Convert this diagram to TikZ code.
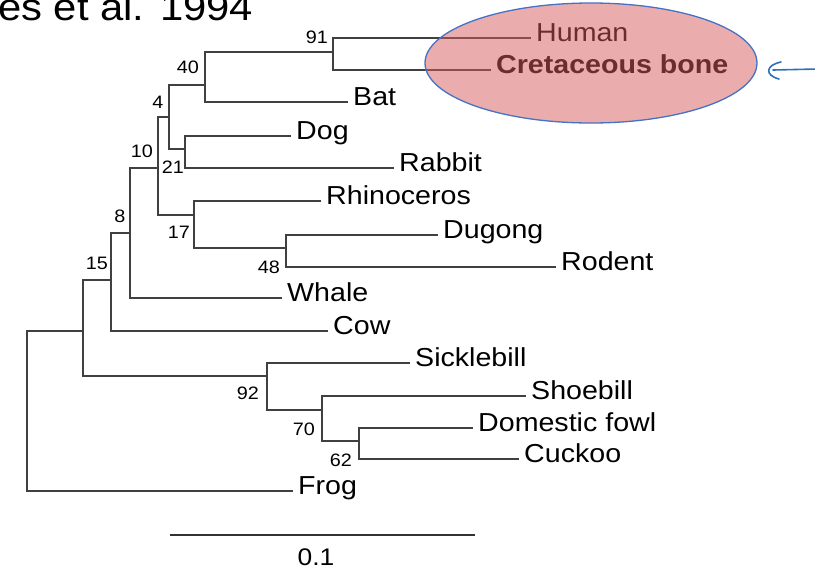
\documentclass[tikz,border=0pt]{standalone}
\usepackage{fontspec}
\setmainfont{Liberation Sans}[FakeStretch=1.1]

\begin{document}
\begin{tikzpicture}[x=1pt, y=-1pt,
    branch/.style={line width=1.1pt, black!75, line cap=rect},
    taxon/.style={anchor=west, inner xsep=6pt, inner ysep=0pt, text height=0.72em, text depth=0pt, font=\fontsize{26}{30}\selectfont},
    boot/.style={inner sep=0pt, font=\fontsize{18}{20}\selectfont},
    pen/.style={penblue, line width=1.6pt, line cap=round}]
    % Màu của vòng elip và mũi tên vẽ tay
    \definecolor{ovalfill}{RGB}{214, 90, 90}
    \definecolor{ovalline}{RGB}{68, 114, 196}
    \definecolor{penblue}{RGB}{46, 110, 186}

    % Khung hình
    \useasboundingbox (0,0) rectangle (815,574);
    \clip (0,0) rectangle (815,574);

    % Tiêu đề (bị cắt ở mép trên)
    \node[anchor=base west, inner sep=0pt, font=\fontsize{38}{40}\selectfont] (title) at (-2,20) {es et al. 1994};

    % Các nút trong của cây
    \coordinate (root) at (27,411);
    \coordinate (nA) at (83,331);
    \coordinate (n15) at (111,280);
    \coordinate (n8) at (130,233);
    \coordinate (n10) at (158,168);
    \coordinate (n4) at (169,117);
    \coordinate (n40) at (205,85);
    \coordinate (n91) at (333,52);
    \coordinate (n21) at (185,149);
    \coordinate (n17) at (194,215);
    \coordinate (n48) at (286,248);
    \coordinate (n92) at (267,376);
    \coordinate (n70) at (322,410);
    \coordinate (n62) at (359,441);

    % Tên các loài
    \node[taxon] (human) at (530,38) {Human};
    \node[taxon] (cret) at (490,70) {\textbf{Cretaceous bone}};
    \node[taxon] (bat) at (347,102) {Bat};
    \node[taxon] (dog) at (290,136) {Dog};
    \node[taxon] (rabbit) at (393,168) {Rabbit};
    \node[taxon] (rhino) at (320,201) {Rhinoceros};
    \node[taxon] (dugong) at (437,235) {Dugong};
    \node[taxon] (rodent) at (555,267) {Rodent};
    \node[taxon] (whale) at (281,298) {Whale};
    \node[taxon] (cow) at (327,331) {Cow};
    \node[taxon] (sickle) at (409,363) {Sicklebill};
    \node[taxon] (shoe) at (525,396) {Shoebill};
    \node[taxon] (fowl) at (472,428) {Domestic fowl};
    \node[taxon] (cuckoo) at (518,459) {Cuckoo};
    \node[taxon] (frog) at (292,491) {Frog};

    % Các nhánh
    \draw[branch] (root) |- (nA); \draw[branch] (root) |- (frog);
    \draw[branch] (nA) |- (n15); \draw[branch] (nA) |- (n92);
    \draw[branch] (n15) |- (n8); \draw[branch] (n15) |- (cow);
    \draw[branch] (n8) |- (n10); \draw[branch] (n8) |- (whale);
    \draw[branch] (n10) |- (n4); \draw[branch] (n10) |- (n17);
    \draw[branch] (n4) |- (n40); \draw[branch] (n4) |- (n21);
    \draw[branch] (n40) |- (n91); \draw[branch] (n40) |- (bat);
    \draw[branch] (n91) |- (human); \draw[branch] (n91) |- (cret);
    \draw[branch] (n21) |- (dog); \draw[branch] (n21) |- (rabbit);
    \draw[branch] (n17) |- (rhino); \draw[branch] (n17) |- (n48);
    \draw[branch] (n48) |- (dugong); \draw[branch] (n48) |- (rodent);
    \draw[branch] (n92) |- (sickle); \draw[branch] (n92) |- (n70);
    \draw[branch] (n70) |- (shoe); \draw[branch] (n70) |- (n62);
    \draw[branch] (n62) |- (fowl); \draw[branch] (n62) |- (cuckoo);

    % Chỉ số bootstrap
    \node[boot] (b91) at (317,37) {91};
    \node[boot] (b40) at (188,67) {40};
    \node[boot] (b4) at (158,102) {4};
    \node[boot] (b10) at (142,151) {10};
    \node[boot] (b21) at (173,167) {21};
    \node[boot] (b8) at (120,216) {8};
    \node[boot] (b17) at (179,232) {17};
    \node[boot] (b15) at (97,263) {15};
    \node[boot] (b48) at (269,267) {48};
    \node[boot] (b92) at (248,393) {92};
    \node[boot] (b70) at (304,429) {70};
    \node[boot] (b62) at (341,460) {62};

    % Thước tỉ lệ
    \coordinate (sbL) at (170,535);
    \coordinate (sbR) at (475,535);
    \draw[line width=1.6pt, black!80] (sbL) -- (sbR);
    \node[inner sep=0pt, font=\fontsize{24}{28}\selectfont] (sblabel) at (316,557) {0.1};

    % Vòng elip tô đỏ
    \fill[ovalfill, fill opacity=0.5] (591,63) ellipse [x radius=166, y radius=60];
    \draw[ovalline, line width=1.3pt] (591,63) ellipse [x radius=166, y radius=60];

    % Mũi tên vẽ tay
    \coordinate (penhead) at (773,70);
    \coordinate (pentail) at (818,69);
    \draw[pen] (pentail) -- (penhead);
    \draw[pen] ([shift={(8,-8)}]penhead) .. controls ([shift={(-7,-5)}]penhead) and ([shift={(-9,5)}]penhead) .. ([shift={(6,9)}]penhead);

\end{tikzpicture}
\end{document}
